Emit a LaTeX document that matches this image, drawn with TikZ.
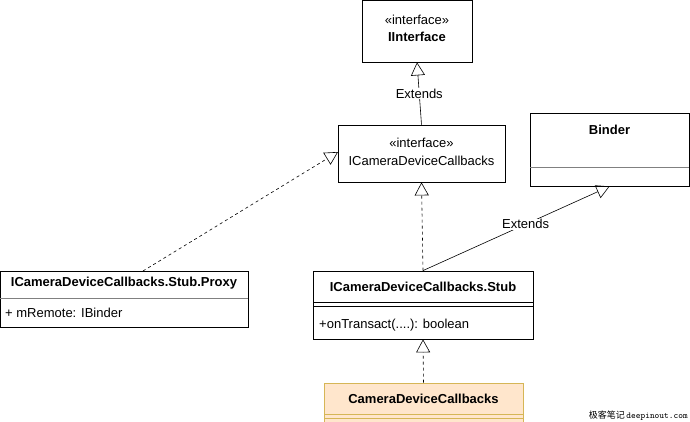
\documentclass[tikz,border=0pt]{standalone}
\usepackage{fontspec}
\setmainfont{Liberation Sans}
\newfontfamily\cjk{Noto Sans CJK SC}
\usetikzlibrary{arrows.meta}
\definecolor{umlfill}{HTML}{FFE6CC}
\definecolor{umldraw}{HTML}{D6B656}
\tikzset{
  box/.style={draw, thick, fill=white, inner sep=0pt},
  txt/.style={inner sep=0pt, font=\fontsize{13}{15}\selectfont},
  title/.style={txt, font=\fontsize{13}{15}\selectfont\bfseries},
  impl/.style={dashed, semithick, -{Triangle[open,length=13pt,width=14pt]}},
  ext/.style={semithick, -{Triangle[open,length=13pt,width=14pt]}},
  lbl/.style={txt, fill=white, inner sep=1pt}
}
\begin{document}
\begin{tikzpicture}[x=1pt,y=-1pt]
\useasboundingbox (0,0) rectangle (690,422);
% IInterface
\node[box, minimum width=110pt, minimum height=62pt] (iface) at (417,31) {};
\node[txt] at (417,20) {«interface»};
\node[title] at (417,37) {IInterface};
% ICameraDeviceCallbacks
\node[box, minimum width=167pt, minimum height=57pt] (icb) at (421.5,153.5) {};
\node[txt] at (421.5,143) {«interface»};
\node[txt] at (421.5,161) {ICameraDeviceCallbacks};
% Binder
\node[box, minimum width=159pt, minimum height=73pt] (binder) at (609.5,149.5) {};
\node[title] at (609.5,130) {Binder};
\draw[thin, gray] (530,167) -- (689,167);
% Stub
\node[box, minimum width=220pt, minimum height=68pt] (stub) at (423,305) {};
\node[title] at (423,287) {ICameraDeviceCallbacks.Stub};
\draw[thick] (313,302) -- (533,302) (313,306) -- (533,306);
\node[txt, anchor=west] at (319,325) {+onTransact(....): boolean};
% Proxy
\node[box, minimum width=248pt, minimum height=56pt] (proxy) at (124,299) {};
\node[title] at (124,283) {ICameraDeviceCallbacks.Stub.Proxy};
\draw[thin, gray] (0,298) -- (248,298);
\node[txt, anchor=west] at (5,313) {+ mRemote: IBinder};
% CameraDeviceCallbacks
\node[box, fill=umlfill, draw=umldraw, minimum width=199pt, minimum height=50pt] (cdc) at (423.5,408) {};
\node[title] at (423.5,399) {CameraDeviceCallbacks};
\draw[thick, umldraw] (324,414) -- (523,414) (324,418) -- (523,418);
% connectors
\draw[ext] (icb.north) -- node[lbl] {Extends} (iface.south);
\coordinate (prx) at (143,271);
\coordinate (icbl) at (338,152);
\draw[impl] (prx) -- (icbl);
\draw[impl] (stub.north) -- (icb.south);
\draw[ext] (stub.north) -- node[lbl, pos=0.55] {Extends} (binder.south);
\draw[impl] (cdc.north) -- (stub.south);
% watermark
\node[inner sep=0pt, anchor=east, font=\fontsize{9}{10}\selectfont] at (688,416) {{\cjk 极客笔记}\,\texttt{deepinout.com}};
\end{tikzpicture}
\end{document}
